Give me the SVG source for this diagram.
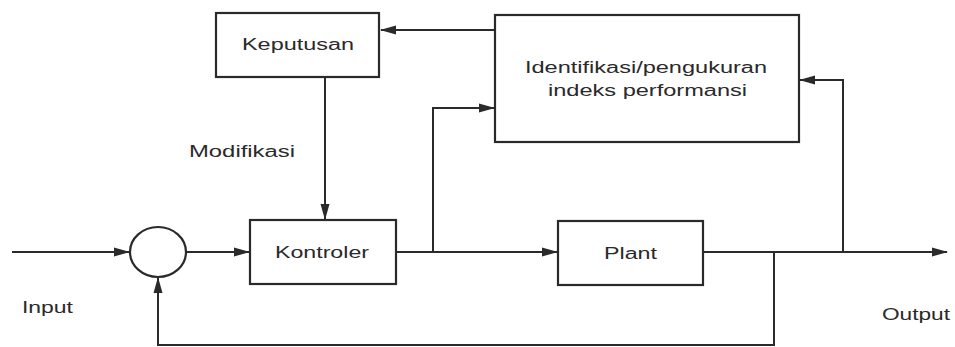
<svg xmlns="http://www.w3.org/2000/svg" width="955" height="347" viewBox="0 0 955 347">
<style>
.box{fill:#fff;stroke:#2a2a2a;stroke-width:2.2}
.ln{fill:none;stroke:#2a2a2a;stroke-width:2}
.t{font-family:"Liberation Sans",Arial,sans-serif;font-size:16px;fill:#2a2a2a}
</style>
<defs>
<marker id="ah" markerWidth="16" markerHeight="10" refX="15" refY="5" orient="auto" markerUnits="userSpaceOnUse">
<path d="M0,0.5 L16,5 L0,9.5 Z" fill="#2a2a2a"/>
</marker>
</defs>
<rect width="955" height="347" fill="#fff"/>
<g id="connectors">
<path class="ln" d="M12,252 H129" marker-end="url(#ah)"/>
<path class="ln" d="M187,252 H249" marker-end="url(#ah)"/>
<path class="ln" d="M396,252 H557" marker-end="url(#ah)"/>
<path class="ln" d="M703,252 H947" marker-end="url(#ah)"/>
<path class="ln" d="M433,252 V108 H494" marker-end="url(#ah)"/>
<path class="ln" d="M843,252 V80 H800" marker-end="url(#ah)"/>
<path class="ln" d="M495,30 H381" marker-end="url(#ah)"/>
<path class="ln" d="M325,77 V219" marker-end="url(#ah)"/>
<path class="ln" d="M774,252 V345 H158 V278" marker-end="url(#ah)"/>
</g>
<g id="keputusan">
<rect class="box" x="216" y="13" width="163" height="64"/>
<text class="t" x="242" y="50" textLength="112" lengthAdjust="spacingAndGlyphs">Keputusan</text>
</g>
<g id="identifikasi">
<rect class="box" x="495" y="15" width="304" height="127"/>
<text class="t" x="525" y="73" textLength="242" lengthAdjust="spacingAndGlyphs">Identifikasi/pengukuran</text>
<text class="t" x="548" y="96" textLength="199" lengthAdjust="spacingAndGlyphs">indeks performansi</text>
</g>
<g id="sum">
<ellipse class="box" cx="158" cy="252" rx="28" ry="25"/>
</g>
<g id="kontroler">
<rect class="box" x="250" y="220" width="146" height="64"/>
<text class="t" x="275" y="258" textLength="94" lengthAdjust="spacingAndGlyphs">Kontroler</text>
</g>
<g id="plant">
<rect class="box" x="558" y="221" width="145" height="64"/>
<text class="t" x="604" y="259" textLength="53" lengthAdjust="spacingAndGlyphs">Plant</text>
</g>
<g id="labels">
<text class="t" x="189" y="157" textLength="106" lengthAdjust="spacingAndGlyphs">Modifikasi</text>
<text class="t" x="22" y="313" textLength="51" lengthAdjust="spacingAndGlyphs">Input</text>
<text class="t" x="882" y="320" textLength="68" lengthAdjust="spacingAndGlyphs">Output</text>
</g>
</svg>
